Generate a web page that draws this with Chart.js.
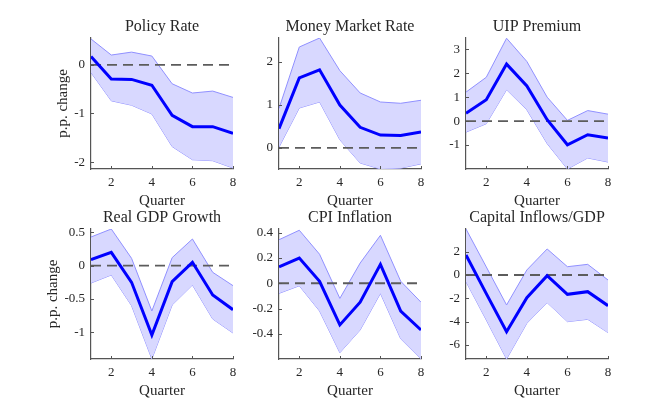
<!DOCTYPE html>
<html>
<head>
<meta charset="utf-8">
<script src="https://cdn.jsdelivr.net/npm/chart.js@4/dist/chart.umd.min.js"></script>
<style>
  html, body { margin: 0; padding: 0; background: #ffffff; }
  #wrap { position: relative; width: 665px; height: 403px; overflow: hidden; background: #ffffff; }
  #wrap canvas { position: absolute; }
</style>
</head>
<body>
<div id="wrap"></div>
<script>
// Horizon (quarters after the shock)
const quarters = [1, 2, 3, 4, 5, 6, 7, 8];
const xTickValues = [2, 4, 6, 8];

// Policy Rate
const policyMedian = [0.17, -0.29, -0.30, -0.42, -1.04, -1.27, -1.27, -1.41];
const policyUpper  = [0.53, 0.20, 0.26, 0.18, -0.39, -0.58, -0.54, -0.67];
const policyLower  = [-0.16, -0.74, -0.83, -1.01, -1.68, -1.95, -1.97, -2.12];
const policyTicks  = [-2, -1, 0];

// Money Market Rate
const moneyMedian = [0.45, 1.63, 1.82, 1.00, 0.48, 0.30, 0.29, 0.37];
const moneyUpper  = [0.92, 2.35, 2.56, 1.80, 1.28, 1.07, 1.04, 1.11];
const moneyLower  = [0.02, 0.93, 1.07, 0.19, -0.35, -0.49, -0.47, -0.37];
const moneyTicks  = [0, 1, 2];

// UIP Premium
const uipMedian = [0.33, 0.89, 2.38, 1.47, 0.06, -0.99, -0.57, -0.71];
const uipUpper  = [1.21, 1.83, 3.46, 2.49, 1.00, 0.03, 0.44, 0.29];
const uipLower  = [-0.46, -0.11, 1.31, 0.47, -0.94, -2.00, -1.54, -1.71];
const uipTicks  = [-1, 0, 1, 2, 3];

// Real GDP Growth
const gdpMedian = [0.09, 0.20, -0.25, -1.04, -0.24, 0.05, -0.44, -0.66];
const gdpUpper  = [0.43, 0.55, 0.11, -0.68, 0.12, 0.40, -0.10, -0.30];
const gdpLower  = [-0.26, -0.14, -0.60, -1.40, -0.59, -0.29, -0.80, -1.01];
const gdpTicks  = [-1, -0.5, 0, 0.5];

// CPI Inflation
const cpiMedian = [0.13, 0.20, 0.016, -0.33, -0.15, 0.15, -0.22, -0.37];
const cpiUpper  = [0.345, 0.42, 0.23, -0.12, 0.16, 0.38, 0.016, -0.15];
const cpiLower  = [-0.08, -0.02, -0.22, -0.55, -0.37, -0.08, -0.44, -0.60];
const cpiTicks  = [-0.4, -0.2, 0, 0.2, 0.4];

// Capital Inflows/GDP
const capMedian = [1.71, -1.60, -4.86, -1.94, -0.06, -1.66, -1.43, -2.63];
const capUpper  = [3.94, 0.69, -2.57, 0.43, 2.23, 0.71, 0.91, -0.43];
const capLower  = [-0.57, -3.86, -7.20, -4.14, -2.37, -4.00, -3.80, -4.94];
const capTicks  = [-6, -4, -2, 0, 2];

const zeroLine = quarters.map(() => 0);

const SERIF = '"Liberation Serif", "DejaVu Serif", serif';
const TEXT = '#262626';
const AXIS = '#555555';

// Short tick marks pointing into the plot, as in MATLAB axes
const innerTicks = {
  id: 'innerTicks',
  afterDatasetsDraw(chart) {
    const { ctx, chartArea, scales } = chart;
    ctx.save();
    ctx.strokeStyle = AXIS;
    ctx.lineWidth = 1;
    ctx.beginPath();
    scales.x.ticks.forEach(t => {
      const px = Math.round(scales.x.getPixelForValue(t.value)) + 0.5;
      ctx.moveTo(px, chartArea.bottom);
      ctx.lineTo(px, chartArea.bottom - 3);
    });
    scales.y.ticks.forEach(t => {
      const py = Math.round(scales.y.getPixelForValue(t.value)) + 0.5;
      ctx.moveTo(chartArea.left, py);
      ctx.lineTo(chartArea.left + 3, py);
    });
    ctx.stroke();
    ctx.restore();
  }
};

function pts(vals) {
  return quarters.map((q, i) => ({ x: q, y: vals[i] }));
}

const panels = [
  { title: 'Policy Rate',         median: policyMedian, upper: policyUpper, lower: policyLower, ticks: policyTicks, min: -2.14, max: 0.55, col: 0, row: 0, ylab: true,  ylabPad: 23 },
  { title: 'Money Market Rate',   median: moneyMedian,  upper: moneyUpper,  lower: moneyLower,  ticks: moneyTicks,  min: -0.49, max: 2.56, col: 1, row: 0, ylab: false, ylabPad: 0 },
  { title: 'UIP Premium',         median: uipMedian,    upper: uipUpper,    lower: uipLower,    ticks: uipTicks,    min: -2.0,  max: 3.47, col: 2, row: 0, ylab: false, ylabPad: 0 },
  { title: 'Real GDP Growth',     median: gdpMedian,    upper: gdpUpper,    lower: gdpLower,    ticks: gdpTicks,    min: -1.40, max: 0.55, col: 0, row: 1, ylab: true,  ylabPad: 13 },
  { title: 'CPI Inflation',       median: cpiMedian,    upper: cpiUpper,    lower: cpiLower,    ticks: cpiTicks,    min: -0.60, max: 0.43, col: 1, row: 1, ylab: false, ylabPad: 0 },
  { title: 'Capital Inflows/GDP', median: capMedian,    upper: capUpper,    lower: capLower,    ticks: capTicks,    min: -7.2,  max: 3.94, col: 2, row: 1, ylab: false, ylabPad: 0 }
];

// Layout of the 2x3 grid (plot area boxes)
const colLeft = [91, 279, 466];
const rowTop = [38, 229];
const rowHeight = [131, 130];
const plotWidth = 142;
const AXIS_W = 60, TITLE_H = 36, XAXIS_H = 44, RIGHT_PAD = 14;

const wrap = document.getElementById('wrap');

panels.forEach(p => {
  const canvas = document.createElement('canvas');
  const w = AXIS_W + plotWidth + RIGHT_PAD;
  const h = TITLE_H + rowHeight[p.row] + XAXIS_H;
  canvas.width = w;
  canvas.height = h;
  canvas.style.width = w + 'px';
  canvas.style.height = h + 'px';
  canvas.style.left = (colLeft[p.col] - AXIS_W) + 'px';
  canvas.style.top = (rowTop[p.row] - TITLE_H) + 'px';
  wrap.appendChild(canvas);

  new Chart(canvas, {
    type: 'line',
    data: {
      datasets: [
        { data: pts(p.median), borderColor: '#0000ff', borderWidth: 3, pointRadius: 0, fill: false, tension: 0 },
        { data: pts(zeroLine), borderColor: '#5c5c5c', borderWidth: 1.8, borderDash: [10, 6], pointRadius: 0, fill: false },
        { data: pts(p.upper), borderColor: '#9090ff', borderWidth: 1, pointRadius: 0, fill: '+1', backgroundColor: '#d8d8ff' },
        { data: pts(p.lower), borderColor: '#9090ff', borderWidth: 1, pointRadius: 0, fill: false }
      ]
    },
    options: {
      responsive: false,
      animation: false,
      devicePixelRatio: 1,
      layout: { padding: { left: 0, right: RIGHT_PAD, top: 0, bottom: 0 } },
      plugins: {
        legend: { display: false },
        tooltip: { enabled: false },
        title: {
          display: true,
          text: p.title,
          fullSize: false,
          color: TEXT,
          font: { family: SERIF, size: 16, weight: 'normal', lineHeight: 1.2 },
          padding: { top: 15, bottom: 1.8 }
        }
      },
      scales: {
        x: {
          type: 'linear',
          min: 1,
          max: 8,
          afterBuildTicks: s => { s.ticks = xTickValues.map(v => ({ value: v })); },
          afterFit: s => { s.height = XAXIS_H; },
          grid: { display: true, drawOnChartArea: false, drawTicks: false },
          border: { display: true, color: AXIS, width: 1.2 },
          ticks: { color: TEXT, padding: 6, maxRotation: 0, font: { family: SERIF, size: 13 }, callback: v => String(v) },
          title: { display: true, text: 'Quarter', color: TEXT, font: { family: SERIF, size: 15, lineHeight: 1.2 }, padding: { top: 0, bottom: 2.5 } }
        },
        y: {
          min: p.min,
          max: p.max,
          afterBuildTicks: s => { s.ticks = p.ticks.map(v => ({ value: v })); },
          afterFit: s => { s.width = AXIS_W; },
          grid: { display: true, drawOnChartArea: false, drawTicks: false },
          border: { display: true, color: AXIS, width: 1.2 },
          ticks: { color: TEXT, padding: 6, font: { family: SERIF, size: 13 }, callback: v => String(v) },
          title: { display: p.ylab, text: 'p.p. change', color: TEXT, font: { family: SERIF, size: 15, lineHeight: 1.2 }, padding: { top: p.ylabPad, bottom: 0 } }
        }
      }
    },
    plugins: [innerTicks]
  });
});
</script>
</body>
</html>
